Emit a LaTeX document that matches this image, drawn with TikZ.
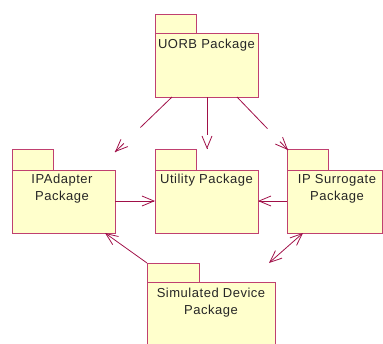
\documentclass[tikz,border=0pt]{standalone}
\usepackage{fontspec}
\setmainfont{Liberation Sans}[LetterSpace=4]
\usetikzlibrary{arrows.meta,calc}
\definecolor{pkgfill}{HTML}{FFFFCC}
\definecolor{pkgborder}{HTML}{C04070}
\definecolor{arr}{HTML}{A01048}
\tikzset{
  pkgbody/.style={draw=pkgborder, fill=pkgfill, line width=0.9pt, inner sep=0pt, outer sep=0pt, anchor=north west, rectangle},
  pkgtab/.style={draw=pkgborder, fill=pkgfill, line width=0.9pt},
  lbl/.style={font=\fontsize{13}{17}\selectfont, align=center, anchor=base, inner sep=0pt, text=black!85},
  wire/.style={draw=arr, line width=0.8pt},
  conn/.style={wire, -{Straight Barb[length=12pt,width=10pt]}},
  biconn/.style={wire, {Straight Barb[length=12pt,width=10pt]}-{Straight Barb[length=12pt,width=10pt]}}
}
\begin{document}
\begin{tikzpicture}[x=1pt,y=-1pt]
\useasboundingbox (0,0) rectangle (383,343);
% UORB
\draw[pkgtab] (155,14) rectangle (196,33);
\node[pkgbody, minimum width=103pt, minimum height=64pt] (uorb) at (155,33) {};
\node[lbl] (uorbt) at (206.5,48) {UORB Package};
% IPAdapter
\draw[pkgtab] (12,149) rectangle (53,170);
\node[pkgbody, minimum width=103pt, minimum height=63pt] (ipa) at (12,170) {};
\node[lbl] (ipat) at (62,200) {IPAdapter\\Package};
% Utility
\draw[pkgtab] (155,149) rectangle (196,170);
\node[pkgbody, minimum width=103pt, minimum height=63pt] (util) at (155,170) {};
\node[lbl] (utilt) at (206.5,183) {Utility Package};
% IP Surrogate
\draw[pkgtab] (287,149) rectangle (328,170);
\node[pkgbody, minimum width=95pt, minimum height=63pt] (ips) at (287,170) {};
\node[lbl] (ipst) at (337,200) {IP Surrogate\\Package};
% Simulated Device
\draw[pkgtab] (147,263) rectangle (199,282);
\node[pkgbody, minimum width=128pt, minimum height=70pt] (sim) at (147,282) {};
\node[lbl] (simt) at (211,314) {Simulated Device\\Package};
% free ends
\coordinate (u1) at (172,97);
\coordinate (u2) at (207,97);
\coordinate (u3) at (237,97);
\coordinate (t1) at (115,152);
\coordinate (t2) at (207,149);
\coordinate (t3) at (288,150);
\coordinate (s1) at (147,263);
\coordinate (t4) at (105,233);
\coordinate (b1) at (303,233);
\coordinate (b2) at (269,263);
% dashed dependencies (dashed line, then a solid head)
\draw[wire, dash pattern=on 44pt off 23pt on 60pt] (u1) -- (t1);
\draw[conn] ($(t1)!1pt!(u1)$) -- (t1);
\draw[wire, dash pattern=on 38pt off 30pt] (u2) -- (t2);
\draw[conn] ($(t2)!1pt!(u2)$) -- (t2);
\draw[wire, dash pattern=on 44pt off 18pt on 60pt] (u3) -- (t3);
\draw[conn] ($(t3)!1pt!(u3)$) -- (t3);
% solid connectors
\draw[conn] (ipa.east |- 0,201) -- (util.west |- 0,201);
\draw[conn] (ips.west |- 0,201) -- (util.east |- 0,201);
\draw[conn] (s1) -- (t4);
\draw[biconn] (b1) -- (b2);
\end{tikzpicture}
\end{document}
